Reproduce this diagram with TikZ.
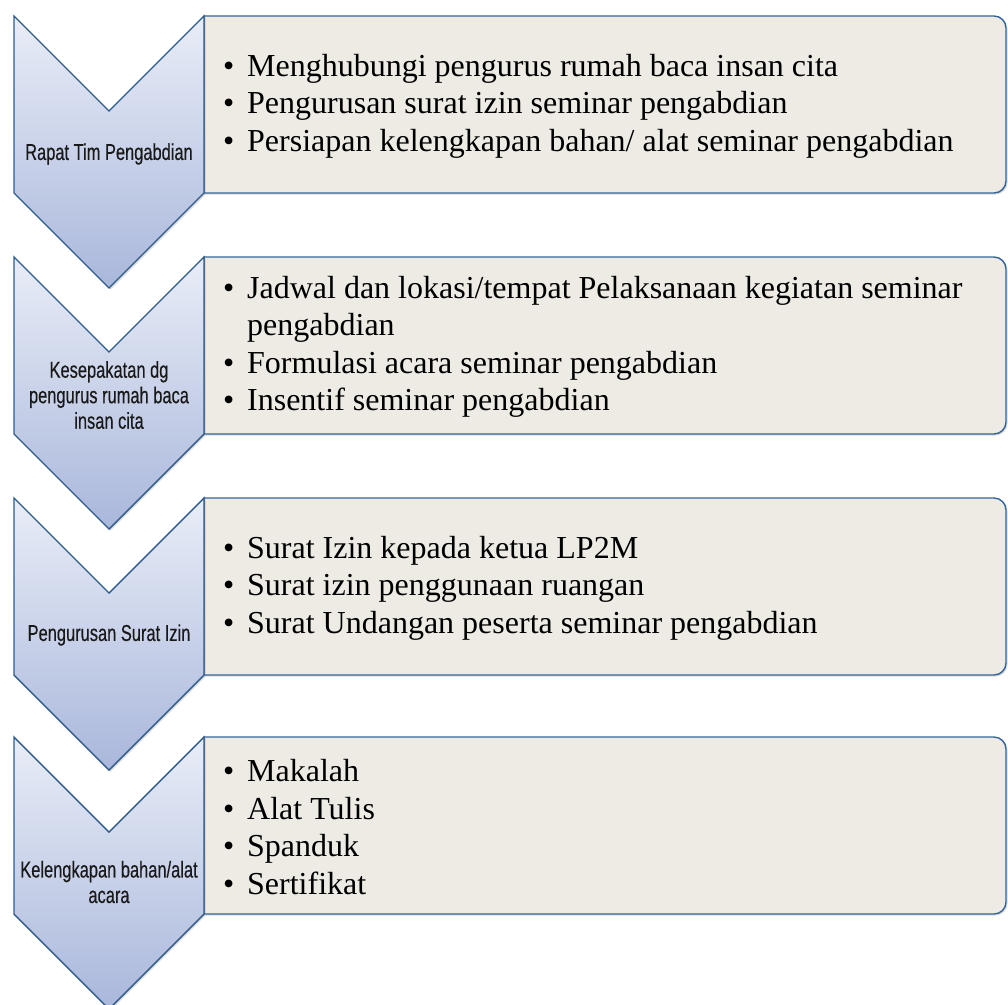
\documentclass[tikz,border=0pt]{standalone}
\usepackage{fontspec}
\setmainfont{Liberation Serif}
\newfontfamily\agency[FakeStretch=0.715,FakeBold=0.3]{Liberation Sans}
\usetikzlibrary{shadows}
\definecolor{chevtop}{HTML}{E9EDF7}
\definecolor{chevbot}{HTML}{A9B7DB}
\definecolor{chevline}{HTML}{2F5B8C}
\definecolor{boxfill}{HTML}{EEEBE4}
\definecolor{boxline}{HTML}{36649A}
\newcommand\bul{\makebox[24pt][l]{\textbullet}}
\newcommand\ind{\hspace*{24pt}}
\begin{document}
\begin{tikzpicture}[x=1pt,y=1pt,
  chev/.style={draw=chevline, line width=1.4pt, top color=chevtop, bottom color=chevbot, line join=miter,
    drop shadow={shadow xshift=1.5pt, shadow yshift=-1.5pt, opacity=.25, fill=black!60}},
  panel/.style={draw=boxline, line width=1.4pt, fill=boxfill,
    drop shadow={shadow xshift=1.5pt, shadow yshift=-1.5pt, opacity=.25, fill=black!60}},
  chevtext/.style={font=\agency\fontsize{23}{25.5}\selectfont, align=center, text=black!90, inner sep=0pt},
  paneltext/.style={font=\fontsize{32}{37.5}\selectfont, align=left, anchor=west, inner sep=0pt, text=black}]
\useasboundingbox (0,0) rectangle (1008,-1004);

% row 1
\draw[panel] (204,-16) -- (994,-16) arc[start angle=90,end angle=0,radius=12pt] -- (1006,-181) arc[start angle=0,end angle=-90,radius=12pt] -- (204,-193) -- cycle;
\draw[chev] (14,-16) -- (109,-111) -- (204,-16) -- (204,-193) -- (109,-288) -- (14,-193) -- cycle;
\node[chevtext] (c1) at (109,-154) {Rapat Tim Pengabdian};
\node[paneltext] (p1) at (223,-106) {\bul Menghubungi pengurus rumah baca insan cita\\ \bul Pengurusan surat izin seminar pengabdian\\ \bul Persiapan kelengkapan bahan/ alat seminar pengabdian};

% row 2
\draw[panel] (204,-257) -- (994,-257) arc[start angle=90,end angle=0,radius=12pt] -- (1006,-422) arc[start angle=0,end angle=-90,radius=12pt] -- (204,-434) -- cycle;
\draw[chev] (14,-257) -- (109,-352) -- (204,-257) -- (204,-434) -- (109,-529) -- (14,-434) -- cycle;
\node[chevtext] (c2) at (109,-395) {Kesepakatan dg\\ pengurus rumah baca\\ insan cita};
\node[paneltext] (p2) at (223,-347) {\bul Jadwal dan lokasi/tempat Pelaksanaan kegiatan seminar\\ \ind pengabdian\\ \bul Formulasi acara seminar pengabdian\\ \bul Insentif seminar pengabdian};

% row 3
\draw[panel] (204,-498) -- (994,-498) arc[start angle=90,end angle=0,radius=12pt] -- (1006,-663) arc[start angle=0,end angle=-90,radius=12pt] -- (204,-675) -- cycle;
\draw[chev] (14,-498) -- (109,-593) -- (204,-498) -- (204,-675) -- (109,-770) -- (14,-675) -- cycle;
\node[chevtext] (c3) at (109,-635) {Pengurusan Surat Izin};
\node[paneltext] (p3) at (223,-588) {\bul Surat Izin kepada ketua LP2M\\ \bul Surat izin penggunaan ruangan\\ \bul Surat Undangan peserta seminar pengabdian};

% row 4
\draw[panel] (204,-737) -- (994,-737) arc[start angle=90,end angle=0,radius=12pt] -- (1006,-902) arc[start angle=0,end angle=-90,radius=12pt] -- (204,-914) -- cycle;
\draw[chev] (14,-737) -- (109,-832) -- (204,-737) -- (204,-914) -- (109,-1009) -- (14,-914) -- cycle;
\node[chevtext] (c4) at (109,-882) {Kelengkapan bahan/alat\\ acara};
\node[paneltext] (p4) at (223,-827) {\bul Makalah\\ \bul Alat Tulis\\ \bul Spanduk\\ \bul Sertifikat};
\end{tikzpicture}
\end{document}
